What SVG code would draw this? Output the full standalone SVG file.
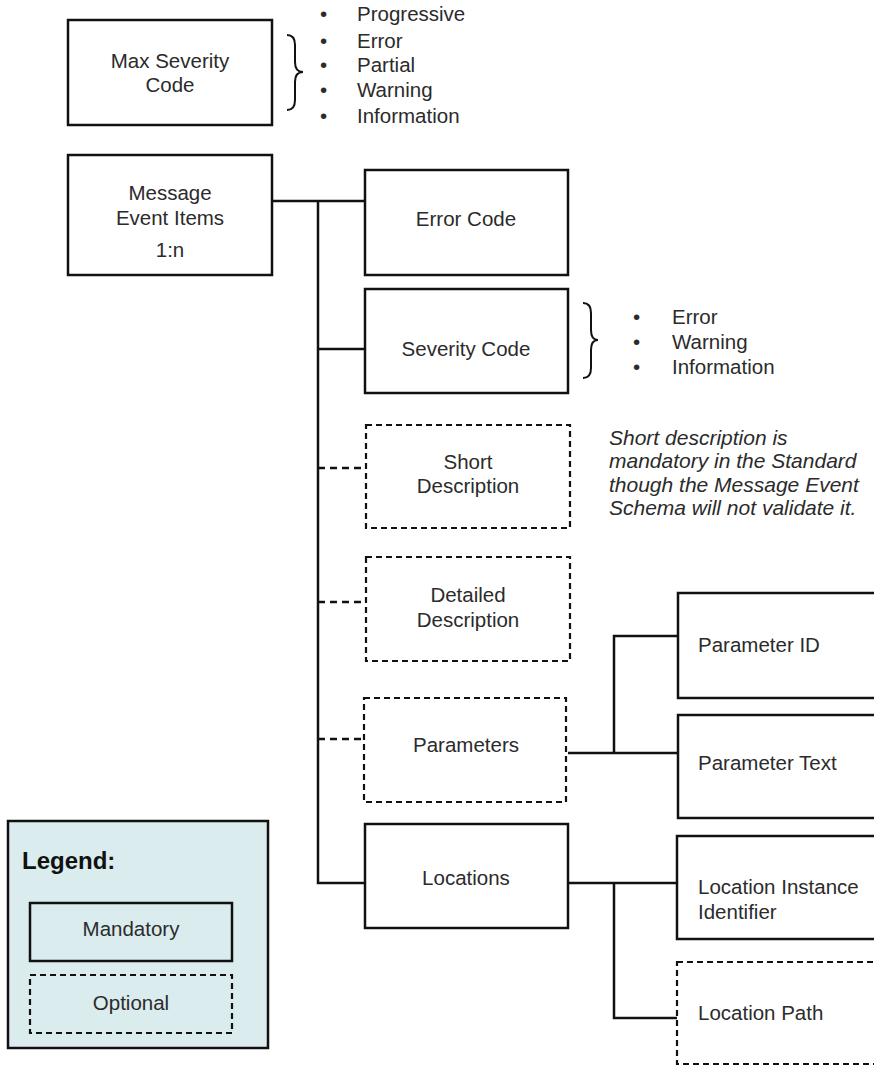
<svg xmlns="http://www.w3.org/2000/svg" width="874" height="1066" viewBox="0 0 874 1066">
  <style>
    text { font-family: "Liberation Sans", Arial, sans-serif; font-size: 20.5px; fill: #2b2b2b; }
    .c { text-anchor: middle; }
    .box { fill: #ffffff; stroke: #111111; stroke-width: 2.5; }
    .opt { fill: #ffffff; stroke: #111111; stroke-width: 2.2; stroke-dasharray: 6 4; }
    .line { fill: none; stroke: #111111; stroke-width: 2.5; }
    .dline { fill: none; stroke: #111111; stroke-width: 2.5; stroke-dasharray: 7 5; }
    .brace { fill: none; stroke: #111111; stroke-width: 2; }
    .note { font-style: italic; font-size: 21px; }
  </style>

  <rect width="874" height="1066" fill="#ffffff"/>

  <!-- connectors -->
  <g id="connectors">
    <path class="line" d="M272,201 H365"/>
    <path class="line" d="M318,201 V883 H365"/>
    <path class="line" d="M318,349 H365"/>
    <path class="dline" d="M318,468 H365"/>
    <path class="dline" d="M318,602 H365"/>
    <path class="dline" d="M318,739 H365"/>
    <path class="line" d="M568,753 H678"/>
    <path class="line" d="M614,753 V636 H678"/>
    <path class="line" d="M568,883 H677"/>
    <path class="line" d="M614,883 V1018 H677"/>
  </g>

  <!-- Max Severity Code -->
  <g id="max-severity-code">
    <rect class="box" x="68" y="20" width="204" height="105"/>
    <text class="c" x="170" y="68">Max Severity</text>
    <text class="c" x="170" y="92">Code</text>
  </g>
  <g id="max-severity-values">
    <path class="brace" d="M287,35 Q295,35 295,45 L295,62 Q295,72 303,72 Q295,72 295,82 L295,100 Q295,110 287,110"/>
    <text x="320" y="21">•</text><text x="357" y="21">Progressive</text>
    <text x="320" y="48">•</text><text x="357" y="48">Error</text>
    <text x="320" y="72">•</text><text x="357" y="72">Partial</text>
    <text x="320" y="97">•</text><text x="357" y="97">Warning</text>
    <text x="320" y="123">•</text><text x="357" y="123">Information</text>
  </g>

  <!-- Message Event Items -->
  <g id="message-event-items">
    <rect class="box" x="68" y="155" width="204" height="120"/>
    <text class="c" x="170" y="200">Message</text>
    <text class="c" x="170" y="225">Event Items</text>
    <text class="c" x="170" y="257">1:n</text>
  </g>

  <g id="error-code">
    <rect class="box" x="365" y="170" width="203" height="105"/>
    <text class="c" x="466" y="226">Error Code</text>
  </g>

  <g id="severity-code">
    <rect class="box" x="365" y="289" width="203" height="104"/>
    <text class="c" x="466" y="356">Severity Code</text>
  </g>
  <g id="severity-values">
    <path class="brace" d="M583,303 Q591,303 591,313 L591,330 Q591,340 598,340 Q591,340 591,350 L591,368 Q591,378 583,378"/>
    <text x="633" y="324">•</text><text x="672" y="324">Error</text>
    <text x="633" y="349">•</text><text x="672" y="349">Warning</text>
    <text x="633" y="374">•</text><text x="672" y="374">Information</text>
  </g>

  <g id="short-description">
    <rect class="opt" x="366" y="425" width="204" height="103"/>
    <text class="c" x="468" y="469">Short</text>
    <text class="c" x="468" y="493">Description</text>
  </g>
  <g id="short-description-note">
    <text class="note" x="609" y="445">Short description is</text>
    <text class="note" x="609" y="468">mandatory in the Standard</text>
    <text class="note" x="609" y="492">though the Message Event</text>
    <text class="note" x="609" y="515">Schema will not validate it.</text>
  </g>

  <g id="detailed-description">
    <rect class="opt" x="366" y="557" width="204" height="104"/>
    <text class="c" x="468" y="602">Detailed</text>
    <text class="c" x="468" y="627">Description</text>
  </g>

  <g id="parameters">
    <rect class="opt" x="364" y="698" width="202" height="104"/>
    <text class="c" x="466" y="752">Parameters</text>
  </g>
  <g id="parameter-id">
    <rect class="box" x="678" y="593" width="230" height="105"/>
    <text x="698" y="652">Parameter ID</text>
  </g>
  <g id="parameter-text">
    <rect class="box" x="678" y="715" width="230" height="103"/>
    <text x="698" y="770">Parameter Text</text>
  </g>

  <g id="locations">
    <rect class="box" x="365" y="824" width="203" height="104"/>
    <text class="c" x="466" y="885">Locations</text>
  </g>
  <g id="location-instance-identifier">
    <rect class="box" x="677" y="836" width="230" height="103"/>
    <text x="698" y="894">Location Instance</text>
    <text x="698" y="919">Identifier</text>
  </g>
  <g id="location-path">
    <rect class="opt" x="677" y="962" width="230" height="102"/>
    <text x="698" y="1020">Location Path</text>
  </g>

  <!-- Legend -->
  <g id="legend">
    <rect x="8" y="821" width="260" height="227" fill="#daecee" stroke="#111111" stroke-width="2.5"/>
    <text x="22" y="869" style="font-weight:bold;font-size:24px;fill:#111111">Legend:</text>
    <rect x="30" y="903" width="202" height="58" fill="none" stroke="#111111" stroke-width="2.5"/>
    <text class="c" x="131" y="936">Mandatory</text>
    <rect x="30" y="975" width="202" height="58" fill="none" stroke="#111111" stroke-width="2.2" stroke-dasharray="6 4"/>
    <text class="c" x="131" y="1010">Optional</text>
  </g>
</svg>
